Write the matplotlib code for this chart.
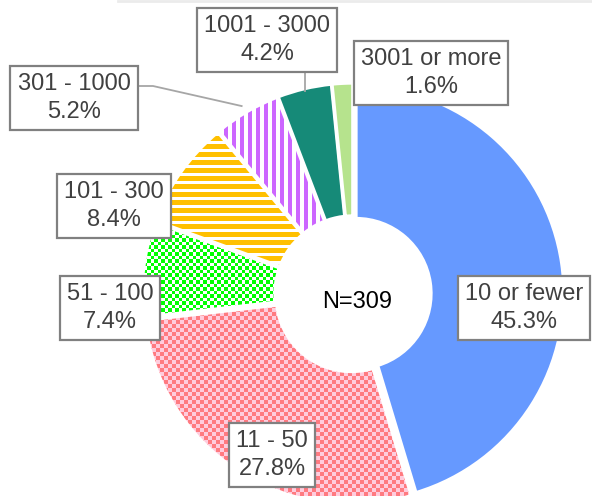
import numpy as np
import matplotlib
matplotlib.use("Agg")
import matplotlib.pyplot as plt
from matplotlib.colors import to_rgb
from matplotlib.lines import Line2D

# DATA
labels = ["10 or fewer", "11 - 50", "51 - 100", "101 - 300", "301 - 1000", "1001 - 3000", "3001 or more"]
shares = [45.3, 27.8, 7.4, 8.4, 5.2, 4.2, 1.6]
total_n = 309

# STYLE / LAYOUT
colors = ["#6699FF", "#FF7A80", "#00FF00", "#FFC000", "#CC66FF", "#168A78", "#B6E38D"]
patterns = [None, "checker", "checker_fine", "hstripe", "vstripe", None, None]
second_colors = [None, "#FFCCDD", "#FFFFFF", "#FFFFFF", "#FFFFFF", None, None]
# label box centres in picture pixels (x from left, y from top)
box_pos = [(524, 308), (272, 455), (110, 308), (114, 206), (74, 98), (267, 40), (431, 73)]

W, H = 592, 496
fig = plt.figure(figsize=(W / 100, H / 100), dpi=100)
ax = fig.add_axes([0, 0, 1, 1])

cx, cy = 353, H - 294
R, r = 208, 75

wedges, _ = ax.pie(shares, colors=colors, startangle=90, counterclock=False,
                   radius=R, center=(cx, cy), explode=[3] * len(shares),
                   wedgeprops=dict(width=R - r, edgecolor="white", linewidth=2.4))

# pattern fills drawn as images clipped to the wedges
yy, xx = np.mgrid[0:H, 0:W]
def pattern_image(kind, c1, c2):
    if kind == "checker":
        mask = (xx // 4 + yy // 4) % 2 == 0
    elif kind == "checker_fine":
        mask = (np.floor(xx / 3.5) + np.floor(yy / 3.5)) % 2 == 0
    elif kind == "hstripe":
        mask = (yy % 8) < 5
    else:
        mask = (xx % 8) < 4
    return np.where(mask[..., None], np.array(to_rgb(c1)), np.array(to_rgb(c2)))

for w, kind, c1, c2 in zip(wedges, patterns, colors, second_colors):
    w.set_zorder(2)
    if kind is None:
        continue
    img = ax.imshow(pattern_image(kind, c1, c2), extent=(0, W, 0, H), origin="upper",
                    interpolation="nearest", zorder=1)
    img.set_clip_path(w)
    w.set_facecolor("none")

# labels
for lab, s, (bx, by) in zip(labels, shares, box_pos):
    ax.text(bx, H - by, f"{lab}\n{s:.1f}%", ha="center", va="center", fontsize=17,
            color="#404040", family="Liberation Sans", linespacing=1.32, zorder=6,
            bbox=dict(boxstyle="square,pad=0.3", fc="white", ec="#808080", lw=1.6))

# leader lines for the two small slices
def outer_point(w, extra=0):
    t = np.deg2rad((w.theta1 + w.theta2) / 2)
    return w.center[0] + (w.r + extra) * np.cos(t), w.center[1] + (w.r + extra) * np.sin(t)

ex, ey = outer_point(wedges[5], -2)
ax.plot([ex, ex], [H - box_pos[5][1], ey], color="#A6A6A6", lw=1.3, zorder=4)
ex, ey = outer_point(wedges[4], 2)
ax.plot([box_pos[4][0], 153, ex - 4], [H - 86, H - 86, ey + 4], color="#A6A6A6", lw=1.3, zorder=4)

ax.text(cx + 4, cy - 8, f"N={total_n}", ha="center", va="center", fontsize=17,
        color="black", family="Liberation Sans", zorder=6)

fig.add_artist(Line2D([0.2, 1], [0.998, 0.998], transform=fig.transFigure, color="#EBEBEB", lw=2))

ax.set_xlim(0, W)
ax.set_ylim(0, H)
ax.set_aspect("equal")
ax.axis("off")
fig.savefig("out.png", dpi=100)
